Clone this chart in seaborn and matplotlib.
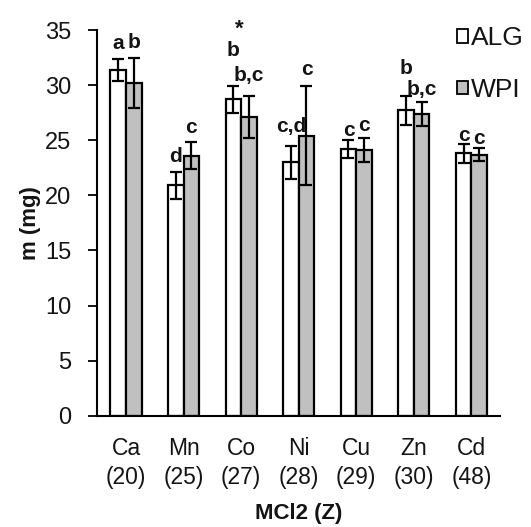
import numpy as np
import pandas as pd
import matplotlib
matplotlib.use("Agg")
import matplotlib.pyplot as plt
from matplotlib.patches import Patch
import seaborn as sns

# Metal chlorides (atomic number in brackets)
metals = ["Ca\n(20)", "Mn\n(25)", "Co\n(27)", "Ni\n(28)", "Cu\n(29)", "Zn\n(30)", "Cd\n(48)"]
groups = ["ALG", "WPI"]

alg_mean = [31.4, 20.9, 28.7, 23.0, 24.2, 27.7, 23.8]
alg_err = [1.0, 1.2, 1.2, 1.5, 0.8, 1.3, 0.9]
wpi_mean = [30.2, 23.6, 27.1, 25.4, 24.1, 27.4, 23.7]
wpi_err = [2.3, 1.2, 1.9, 4.5, 1.1, 1.1, 0.6]

alg_letters = ["a", "d", "b", "c,d", "c", "b", "c"]
wpi_letters = ["b", "c", "b,c", "c", "c", "b,c", "c"]

# extra lift (points) of each significance letter above its error cap
alg_lift = [7, 7, 22, 10, 3, 16, 2]
wpi_lift = [7, 7, 11, 8, 5, 5, 3]

df = pd.DataFrame({
    "metal": metals * 2,
    "m": alg_mean + wpi_mean,
    "group": [groups[0]] * len(metals) + [groups[1]] * len(metals),
})

sns.set_theme(style="white")
plt.rcParams["font.family"] = ["Liberation Sans", "DejaVu Sans"]

fig = plt.figure(figsize=(5.31, 5.27), dpi=100)
ax = fig.add_axes([0.183, 0.211, 0.759, 0.732])

sns.barplot(data=df, x="metal", y="m", hue="group", hue_order=groups,
            palette=["white", "#c0c0c0"], edgecolor="black", linewidth=1.6,
            width=0.54, errorbar=None, ax=ax, legend=False, saturation=1)

text_color = "#141414"
n = len(metals)
bars = ax.patches[: 2 * n]
means = alg_mean + wpi_mean
errs = alg_err + wpi_err
letters = alg_letters + wpi_letters
lifts = alg_lift + wpi_lift
for bar, mu, e, lab, lift in zip(bars, means, errs, letters, lifts):
    xc = bar.get_x() + bar.get_width() / 2
    ax.errorbar(xc, mu, yerr=e, fmt="none", ecolor="black", elinewidth=1.6,
                capsize=4.5, capthick=1.6, zorder=5)
    ax.annotate(lab, (xc, mu + e), xytext=(0, lift), textcoords="offset points",
                ha="center", va="baseline", fontsize=15, fontweight="bold",
                color=text_color)

# asterisk over the Co / ALG letter
co = metals.index("Co\n(27)")
co_bar = bars[co]
ax.annotate("*", (co_bar.get_x() + co_bar.get_width() / 2, alg_mean[co] + alg_err[co]),
            xytext=(4, alg_lift[co] + 15), textcoords="offset points",
            ha="center", va="baseline", fontsize=16, fontweight="bold", color=text_color)

ax.set_xlim(-0.5, n - 0.5)
ax.set_ylim(0, 35)
ax.set_yticks(np.arange(0, 36, 5))
ax.tick_params(axis="y", direction="out", length=6.5, width=1.3, color="black",
               labelsize=17, pad=12, left=True)
ax.tick_params(axis="x", length=0, labelsize=16.5, pad=15)
for lbl in ax.get_xticklabels():
    lbl.set_linespacing(1.35)
for lbl in ax.get_xticklabels() + ax.get_yticklabels():
    lbl.set_color(text_color)

sns.despine(ax=ax)
for s in ("left", "bottom"):
    ax.spines[s].set_color("black")
    ax.spines[s].set_linewidth(1.5)

ax.set_ylabel("m (mg)", fontsize=16, fontweight="bold", color=text_color, labelpad=3)
ax.set_xlabel("MCl2 (Z)", fontsize=16, fontweight="bold", color=text_color, labelpad=10)

handles = [Patch(facecolor="white", edgecolor="black", linewidth=1.3),
           Patch(facecolor="#c0c0c0", edgecolor="black", linewidth=1.3)]
fig.legend(handles, groups, loc="upper left", bbox_to_anchor=(0.86, 0.95),
           frameon=False, fontsize=19, handlelength=0.42, handleheight=0.42,
           handletextpad=0.12, labelspacing=1.05, borderpad=0, borderaxespad=0,
           labelcolor=text_color)

fig.savefig("out.png", dpi=100)
